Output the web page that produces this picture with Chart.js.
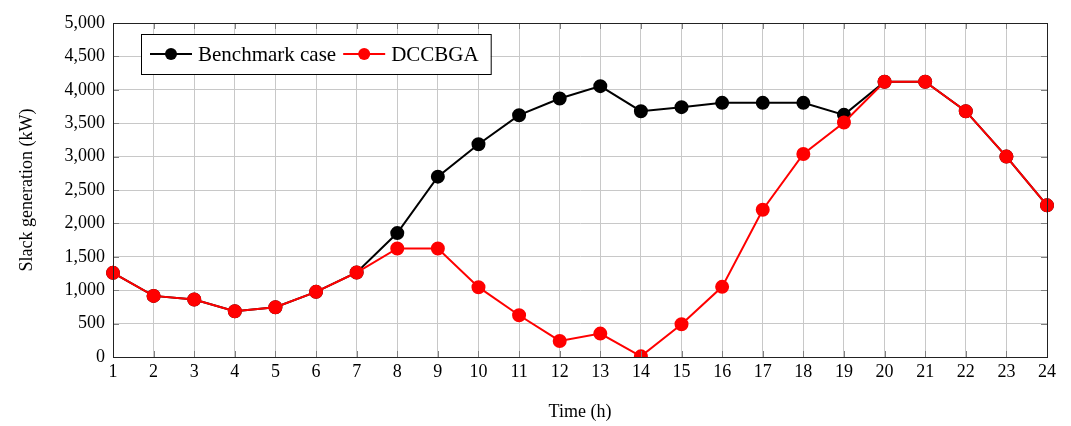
<!DOCTYPE html>
<html>
<head>
<meta charset="utf-8">
<script src="https://cdn.jsdelivr.net/npm/chart.js@4.4.1/dist/chart.umd.min.js"></script>
<style>
  html, body { margin: 0; padding: 0; background: #fff; }
  #wrap { width: 1071px; height: 426px; position: relative; }
</style>
</head>
<body>
<div id="wrap"><canvas id="myChart"></canvas></div>
<script>
// Heures
const hours = ['1','2','3','4','5','6','7','8','9','10','11','12','13','14','15','16','17','18','19','20','21','22','23','24'];
// Valeurs (kW)
const benchmarkCase = [1260, 915, 860, 685, 745, 975, 1265, 1855, 2700, 3185, 3620, 3870, 4055, 3680, 3740, 3805, 3805, 3805, 3625, 4120, 4120, 3680, 3000, 2270];
const dccbga = [1260, 915, 860, 685, 745, 975, 1265, 1625, 1625, 1045, 625, 240, 350, 10, 490, 1050, 2205, 3040, 3510, 4120, 4120, 3680, 3000, 2270];
const yTicks = [0, 500, 1000, 1500, 2000, 2500, 3000, 3500, 4000, 4500, 5000];

const serif = '"Liberation Serif", "DejaVu Serif", serif';

// Cadre complet, petites graduations vers l'intérieur + légende dans la zone du graphique
const innerTicks = {
    id: 'innerTicks',
    afterDraw(chart) {
        const { ctx, chartArea: a, scales } = chart;
        ctx.save();
        ctx.strokeStyle = '#808080';
        ctx.lineWidth = 1;
        ctx.beginPath();
        hours.forEach((h, i) => {
            const x = Math.round(scales.x.getPixelForValue(i)) + 0.5;
            ctx.moveTo(x, a.bottom); ctx.lineTo(x, a.bottom - 6);
            ctx.moveTo(x, a.top); ctx.lineTo(x, a.top + 6);
        });
        yTicks.forEach(v => {
            const y = Math.round(scales.y.getPixelForValue(v)) + 0.5;
            ctx.moveTo(a.left, y); ctx.lineTo(a.left + 6, y);
            ctx.moveTo(a.right, y); ctx.lineTo(a.right - 6, y);
        });
        ctx.stroke();

        ctx.strokeStyle = '#222';
        ctx.strokeRect(Math.round(a.left) + 0.5, Math.round(a.top) + 0.5, Math.round(a.right - a.left), Math.round(a.bottom - a.top));

        // Légende
        ctx.font = '21px ' + serif;
        ctx.textBaseline = 'middle';
        const bx = a.left + 28, by = a.top + 11, bh = 40;
        const cy = by + bh / 2;
        let x = bx + 9;
        const items = chart.data.datasets.map(ds => ({ label: ds.label, color: ds.borderColor }));
        const parts = [];
        items.forEach((it, i) => {
            parts.push({ it, lx: x });
            x += 42 + 6;
            x += ctx.measureText(it.label).width + (i < items.length - 1 ? 7 : 12);
        });
        const bw = x - bx;
        ctx.fillStyle = '#fff';
        ctx.fillRect(bx, by, bw, bh);
        ctx.strokeStyle = '#000';
        ctx.strokeRect(bx + 0.5, by + 0.5, bw, bh);
        parts.forEach(p => {
            ctx.strokeStyle = p.it.color;
            ctx.lineWidth = 2;
            ctx.beginPath();
            ctx.moveTo(p.lx, cy); ctx.lineTo(p.lx + 42, cy);
            ctx.stroke();
            ctx.fillStyle = p.it.color;
            ctx.beginPath();
            ctx.arc(p.lx + 21, cy, 6, 0, Math.PI * 2);
            ctx.fill();
            ctx.fillStyle = '#000';
            ctx.fillText(p.it.label, p.lx + 48, cy + 1);
        });
        ctx.restore();
    }
};

const ctx = document.getElementById('myChart').getContext('2d');
const myChart = new Chart(ctx, {
    type: 'line',
    data: {
        labels: hours,
        datasets: [{
            label: 'Benchmark case',
            data: benchmarkCase,
            borderColor: '#000000',
            backgroundColor: '#000000',
            borderWidth: 2,
            pointRadius: 6,
            pointHoverRadius: 6,
            tension: 0,
            order: 1
        }, {
            label: 'DCCBGA',
            data: dccbga,
            borderColor: '#ff0000',
            backgroundColor: '#ff0000',
            borderWidth: 2,
            pointRadius: 6,
            pointHoverRadius: 6,
            tension: 0,
            order: 0
        }]
    },
    options: {
        responsive: true,
        maintainAspectRatio: false,
        animation: false,
        layout: { padding: { top: 23, right: 24, left: 0, bottom: 0 } },
        plugins: {
            legend: { display: false },
            tooltip: { enabled: false }
        },
        scales: {
            x: {
                offset: false,
                grid: { color: '#c8c8c8', drawTicks: false },
                border: { color: '#222', width: 1 },
                ticks: { color: '#000', font: { family: serif, size: 18 }, padding: 4, maxRotation: 0, autoSkip: false },
                title: { display: true, text: 'Time (h)', color: '#000', font: { family: serif, size: 18 }, padding: { bottom: 3 } },
                afterFit(scale) { scale.height = 69; }
            },
            y: {
                min: 0,
                max: 5000,
                grid: { color: '#c8c8c8', drawTicks: false },
                border: { color: '#222', width: 1 },
                ticks: {
                    stepSize: 500,
                    color: '#000',
                    font: { family: serif, size: 18 },
                    padding: 8,
                    callback: v => v.toLocaleString('en-US')
                },
                title: { display: true, text: 'Slack generation (kW)', color: '#000', font: { family: serif, size: 18 }, padding: { top: 16 } },
                afterFit(scale) { scale.width = 113; }
            }
        }
    },
    plugins: [innerTicks]
});
</script>
</body>
</html>
